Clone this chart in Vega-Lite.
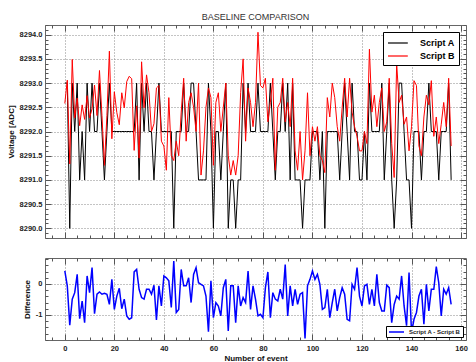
{
  "$schema": "https://vega.github.io/schema/vega-lite/v6.json",
  "background": "white",
  "padding": {"left": 6, "top": 12, "right": 5, "bottom": 0},
  "spacing": 12,
  "config": {
    "font": "Liberation Sans",
    "view": {"stroke": "#666666", "strokeWidth": 1},
    "axis": {
      "domain": false,
      "labelFont": "Liberation Sans",
      "labelFontWeight": "bold",
      "labelFontSize": 7.5,
      "labelColor": "#222222",
      "labelOverlap": false,
      "labelBound": false,
      "labelFlush": false,
      "titleFont": "Liberation Sans",
      "titleFontWeight": "bold",
      "titleFontSize": 8,
      "titleColor": "#111111",
      "tickColor": "#555555",
      "tickWidth": 1,
      "gridColor": "#888888",
      "gridDash": [1, 2],
      "gridWidth": 1
    }
  },
  "resolve": {"scale": {"color": "independent"}, "legend": {"color": "independent"}},
  "datasets": {
    "ab": [
      {"event":0,"series":"Script A","voltage":8293},{"event":1,"series":"Script A","voltage":8293},{"event":2,"series":"Script A","voltage":8290},{"event":3,"series":"Script A","voltage":8293},{"event":4,"series":"Script A","voltage":8292},{"event":5,"series":"Script A","voltage":8293},{"event":6,"series":"Script A","voltage":8291},{"event":7,"series":"Script A","voltage":8292},{"event":8,"series":"Script A","voltage":8291},{"event":9,"series":"Script A","voltage":8293},
      {"event":10,"series":"Script A","voltage":8292},{"event":11,"series":"Script A","voltage":8293},{"event":12,"series":"Script A","voltage":8292},{"event":13,"series":"Script A","voltage":8292},{"event":14,"series":"Script A","voltage":8293},{"event":15,"series":"Script A","voltage":8292},{"event":16,"series":"Script A","voltage":8291},{"event":17,"series":"Script A","voltage":8292},{"event":18,"series":"Script A","voltage":8293},{"event":19,"series":"Script A","voltage":8292},
      {"event":20,"series":"Script A","voltage":8292},{"event":21,"series":"Script A","voltage":8292},{"event":22,"series":"Script A","voltage":8292},{"event":23,"series":"Script A","voltage":8292},{"event":24,"series":"Script A","voltage":8292},{"event":25,"series":"Script A","voltage":8292},{"event":26,"series":"Script A","voltage":8292},{"event":27,"series":"Script A","voltage":8292},{"event":28,"series":"Script A","voltage":8292},{"event":29,"series":"Script A","voltage":8293},
      {"event":30,"series":"Script A","voltage":8291},{"event":31,"series":"Script A","voltage":8293},{"event":32,"series":"Script A","voltage":8292},{"event":33,"series":"Script A","voltage":8293},{"event":34,"series":"Script A","voltage":8292},{"event":35,"series":"Script A","voltage":8292},{"event":36,"series":"Script A","voltage":8291},{"event":37,"series":"Script A","voltage":8292},{"event":38,"series":"Script A","voltage":8293},{"event":39,"series":"Script A","voltage":8292},
      {"event":40,"series":"Script A","voltage":8292},{"event":41,"series":"Script A","voltage":8292},{"event":42,"series":"Script A","voltage":8292},{"event":43,"series":"Script A","voltage":8292},{"event":44,"series":"Script A","voltage":8290},{"event":45,"series":"Script A","voltage":8292},{"event":46,"series":"Script A","voltage":8292},{"event":47,"series":"Script A","voltage":8292},{"event":48,"series":"Script A","voltage":8293},{"event":49,"series":"Script A","voltage":8292},
      {"event":50,"series":"Script A","voltage":8292},{"event":51,"series":"Script A","voltage":8293},{"event":52,"series":"Script A","voltage":8293},{"event":53,"series":"Script A","voltage":8292},{"event":54,"series":"Script A","voltage":8291},{"event":55,"series":"Script A","voltage":8291},{"event":56,"series":"Script A","voltage":8291},{"event":57,"series":"Script A","voltage":8291},{"event":58,"series":"Script A","voltage":8293},{"event":59,"series":"Script A","voltage":8292},
      {"event":60,"series":"Script A","voltage":8290},{"event":61,"series":"Script A","voltage":8292},{"event":62,"series":"Script A","voltage":8292},{"event":63,"series":"Script A","voltage":8291},{"event":64,"series":"Script A","voltage":8292},{"event":65,"series":"Script A","voltage":8293},{"event":66,"series":"Script A","voltage":8290},{"event":67,"series":"Script A","voltage":8291},{"event":68,"series":"Script A","voltage":8291},{"event":69,"series":"Script A","voltage":8290},
      {"event":70,"series":"Script A","voltage":8291},{"event":71,"series":"Script A","voltage":8291},{"event":72,"series":"Script A","voltage":8293},{"event":73,"series":"Script A","voltage":8292},{"event":74,"series":"Script A","voltage":8293},{"event":75,"series":"Script A","voltage":8292},{"event":76,"series":"Script A","voltage":8292},{"event":77,"series":"Script A","voltage":8292},{"event":78,"series":"Script A","voltage":8293},{"event":79,"series":"Script A","voltage":8292},
      {"event":80,"series":"Script A","voltage":8292},{"event":81,"series":"Script A","voltage":8292},{"event":82,"series":"Script A","voltage":8292},{"event":83,"series":"Script A","voltage":8293},{"event":84,"series":"Script A","voltage":8292},{"event":85,"series":"Script A","voltage":8291},{"event":86,"series":"Script A","voltage":8292},{"event":87,"series":"Script A","voltage":8292},{"event":88,"series":"Script A","voltage":8293},{"event":89,"series":"Script A","voltage":8292},
      {"event":90,"series":"Script A","voltage":8293},{"event":91,"series":"Script A","voltage":8291},{"event":92,"series":"Script A","voltage":8293},{"event":93,"series":"Script A","voltage":8291},{"event":94,"series":"Script A","voltage":8291},{"event":95,"series":"Script A","voltage":8291},{"event":96,"series":"Script A","voltage":8290},{"event":97,"series":"Script A","voltage":8291},{"event":98,"series":"Script A","voltage":8291},{"event":99,"series":"Script A","voltage":8291},
      {"event":100,"series":"Script A","voltage":8292},{"event":101,"series":"Script A","voltage":8292},{"event":102,"series":"Script A","voltage":8292},{"event":103,"series":"Script A","voltage":8291},{"event":104,"series":"Script A","voltage":8292},{"event":105,"series":"Script A","voltage":8290},{"event":106,"series":"Script A","voltage":8292},{"event":107,"series":"Script A","voltage":8292},{"event":108,"series":"Script A","voltage":8292},{"event":109,"series":"Script A","voltage":8292},
      {"event":110,"series":"Script A","voltage":8292},{"event":111,"series":"Script A","voltage":8291},{"event":112,"series":"Script A","voltage":8292},{"event":113,"series":"Script A","voltage":8293},{"event":114,"series":"Script A","voltage":8292},{"event":115,"series":"Script A","voltage":8291},{"event":116,"series":"Script A","voltage":8293},{"event":117,"series":"Script A","voltage":8292},{"event":118,"series":"Script A","voltage":8292},{"event":119,"series":"Script A","voltage":8291},
      {"event":120,"series":"Script A","voltage":8291},{"event":121,"series":"Script A","voltage":8292},{"event":122,"series":"Script A","voltage":8291},{"event":123,"series":"Script A","voltage":8293},{"event":124,"series":"Script A","voltage":8292},{"event":125,"series":"Script A","voltage":8292},{"event":126,"series":"Script A","voltage":8292},{"event":127,"series":"Script A","voltage":8292},{"event":128,"series":"Script A","voltage":8293},{"event":129,"series":"Script A","voltage":8291},
      {"event":130,"series":"Script A","voltage":8292},{"event":131,"series":"Script A","voltage":8293},{"event":132,"series":"Script A","voltage":8291},{"event":133,"series":"Script A","voltage":8290},{"event":134,"series":"Script A","voltage":8291},{"event":135,"series":"Script A","voltage":8293},{"event":136,"series":"Script A","voltage":8293},{"event":137,"series":"Script A","voltage":8292},{"event":138,"series":"Script A","voltage":8291},{"event":139,"series":"Script A","voltage":8291},
      {"event":140,"series":"Script A","voltage":8290},{"event":141,"series":"Script A","voltage":8292},{"event":142,"series":"Script A","voltage":8292},{"event":143,"series":"Script A","voltage":8292},{"event":144,"series":"Script A","voltage":8291},{"event":145,"series":"Script A","voltage":8292},{"event":146,"series":"Script A","voltage":8292},{"event":147,"series":"Script A","voltage":8293},{"event":148,"series":"Script A","voltage":8292},{"event":149,"series":"Script A","voltage":8292},
      {"event":150,"series":"Script A","voltage":8292},{"event":151,"series":"Script A","voltage":8291},{"event":152,"series":"Script A","voltage":8292},{"event":153,"series":"Script A","voltage":8292},{"event":154,"series":"Script A","voltage":8292},{"event":155,"series":"Script A","voltage":8293},{"event":156,"series":"Script A","voltage":8291},
      {"event":0,"series":"Script B","voltage":8292.58},{"event":1,"series":"Script B","voltage":8293.06},{"event":2,"series":"Script B","voltage":8291.33},{"event":3,"series":"Script B","voltage":8293.49},{"event":4,"series":"Script B","voltage":8292.28},{"event":5,"series":"Script B","voltage":8292.69},{"event":6,"series":"Script B","voltage":8292.12},{"event":7,"series":"Script B","voltage":8292.55},{"event":8,"series":"Script B","voltage":8292.25},{"event":9,"series":"Script B","voltage":8292.74},
      {"event":10,"series":"Script B","voltage":8292.28},{"event":11,"series":"Script B","voltage":8292.47},{"event":12,"series":"Script B","voltage":8292.96},{"event":13,"series":"Script B","voltage":8292.33},{"event":14,"series":"Script B","voltage":8293.26},{"event":15,"series":"Script B","voltage":8292.33},{"event":16,"series":"Script B","voltage":8291.3},{"event":17,"series":"Script B","voltage":8292.33},{"event":18,"series":"Script B","voltage":8293.66},{"event":19,"series":"Script B","voltage":8291.85},
      {"event":20,"series":"Script B","voltage":8292.82},{"event":21,"series":"Script B","voltage":8292.39},{"event":22,"series":"Script B","voltage":8292.14},{"event":23,"series":"Script B","voltage":8292.8},{"event":24,"series":"Script B","voltage":8292.49},{"event":25,"series":"Script B","voltage":8293.03},{"event":26,"series":"Script B","voltage":8293.14},{"event":27,"series":"Script B","voltage":8293.09},{"event":28,"series":"Script B","voltage":8291.61},{"event":29,"series":"Script B","voltage":8292.53},
      {"event":30,"series":"Script B","voltage":8291.45},{"event":31,"series":"Script B","voltage":8293.44},{"event":32,"series":"Script B","voltage":8292.49},{"event":33,"series":"Script B","voltage":8293.17},{"event":34,"series":"Script B","voltage":8292.8},{"event":35,"series":"Script B","voltage":8292.0},{"event":36,"series":"Script B","voltage":8292.16},{"event":37,"series":"Script B","voltage":8292.9},{"event":38,"series":"Script B","voltage":8292.95},{"event":39,"series":"Script B","voltage":8291.8},
      {"event":40,"series":"Script B","voltage":8291.7},{"event":41,"series":"Script B","voltage":8291.2},{"event":42,"series":"Script B","voltage":8292.7},{"event":43,"series":"Script B","voltage":8291.5},{"event":44,"series":"Script B","voltage":8291.4},{"event":45,"series":"Script B","voltage":8291.8},{"event":46,"series":"Script B","voltage":8291.5},{"event":47,"series":"Script B","voltage":8292.4},{"event":48,"series":"Script B","voltage":8293.1},{"event":49,"series":"Script B","voltage":8291.8},
      {"event":50,"series":"Script B","voltage":8292.6},{"event":51,"series":"Script B","voltage":8292.8},{"event":52,"series":"Script B","voltage":8292.5},{"event":53,"series":"Script B","voltage":8292.0},{"event":54,"series":"Script B","voltage":8293.0},{"event":55,"series":"Script B","voltage":8291.1},{"event":56,"series":"Script B","voltage":8291.6},{"event":57,"series":"Script B","voltage":8292.5},{"event":58,"series":"Script B","voltage":8292.9},{"event":59,"series":"Script B","voltage":8292.7},
      {"event":60,"series":"Script B","voltage":8291.3},{"event":61,"series":"Script B","voltage":8292.6},{"event":62,"series":"Script B","voltage":8292.8},{"event":63,"series":"Script B","voltage":8292.0},{"event":64,"series":"Script B","voltage":8292.5},{"event":65,"series":"Script B","voltage":8293.0},{"event":66,"series":"Script B","voltage":8291.5},{"event":67,"series":"Script B","voltage":8291.1},{"event":68,"series":"Script B","voltage":8291.4},{"event":69,"series":"Script B","voltage":8291.1},
      {"event":70,"series":"Script B","voltage":8291.5},{"event":71,"series":"Script B","voltage":8292.8},{"event":72,"series":"Script B","voltage":8293.5},{"event":73,"series":"Script B","voltage":8291.8},{"event":74,"series":"Script B","voltage":8292.9},{"event":75,"series":"Script B","voltage":8292.6},{"event":76,"series":"Script B","voltage":8292.1},{"event":77,"series":"Script B","voltage":8292.6},{"event":78,"series":"Script B","voltage":8294.05},{"event":79,"series":"Script B","voltage":8292.95},
      {"event":80,"series":"Script B","voltage":8292.9},{"event":81,"series":"Script B","voltage":8293.1},{"event":82,"series":"Script B","voltage":8292.2},{"event":83,"series":"Script B","voltage":8292.6},{"event":84,"series":"Script B","voltage":8293.1},{"event":85,"series":"Script B","voltage":8291.2},{"event":86,"series":"Script B","voltage":8292.5},{"event":87,"series":"Script B","voltage":8292.6},{"event":88,"series":"Script B","voltage":8293.1},{"event":89,"series":"Script B","voltage":8292.2},
      {"event":90,"series":"Script B","voltage":8292.6},{"event":91,"series":"Script B","voltage":8292.1},{"event":92,"series":"Script B","voltage":8293.1},{"event":93,"series":"Script B","voltage":8291.6},{"event":94,"series":"Script B","voltage":8291.2},{"event":95,"series":"Script B","voltage":8292.0},{"event":96,"series":"Script B","voltage":8291.0},{"event":97,"series":"Script B","voltage":8291.6},{"event":98,"series":"Script B","voltage":8292.8},{"event":99,"series":"Script B","voltage":8291.5},
      {"event":100,"series":"Script B","voltage":8292.1},{"event":101,"series":"Script B","voltage":8291.8},{"event":102,"series":"Script B","voltage":8292.1},{"event":103,"series":"Script B","voltage":8291.5},{"event":104,"series":"Script B","voltage":8291.4},{"event":105,"series":"Script B","voltage":8291.15},{"event":106,"series":"Script B","voltage":8292.7},{"event":107,"series":"Script B","voltage":8292.3},{"event":108,"series":"Script B","voltage":8293.0},{"event":109,"series":"Script B","voltage":8292.7},
      {"event":110,"series":"Script B","voltage":8292.1},{"event":111,"series":"Script B","voltage":8291.8},{"event":112,"series":"Script B","voltage":8292.5},{"event":113,"series":"Script B","voltage":8293.1},{"event":114,"series":"Script B","voltage":8292.3},{"event":115,"series":"Script B","voltage":8293.1},{"event":116,"series":"Script B","voltage":8292.4},{"event":117,"series":"Script B","voltage":8292.1},{"event":118,"series":"Script B","voltage":8291.9},{"event":119,"series":"Script B","voltage":8291.6},
      {"event":120,"series":"Script B","voltage":8291.6},{"event":121,"series":"Script B","voltage":8292.0},{"event":122,"series":"Script B","voltage":8291.75},{"event":123,"series":"Script B","voltage":8293.7},{"event":124,"series":"Script B","voltage":8292.4},{"event":125,"series":"Script B","voltage":8292.75},{"event":126,"series":"Script B","voltage":8292.1},{"event":127,"series":"Script B","voltage":8292.6},{"event":128,"series":"Script B","voltage":8292.9},{"event":129,"series":"Script B","voltage":8292.0},
      {"event":130,"series":"Script B","voltage":8292.2},{"event":131,"series":"Script B","voltage":8293.1},{"event":132,"series":"Script B","voltage":8291.75},{"event":133,"series":"Script B","voltage":8291.05},{"event":134,"series":"Script B","voltage":8293.4},{"event":135,"series":"Script B","voltage":8292.6},{"event":136,"series":"Script B","voltage":8292.75},{"event":137,"series":"Script B","voltage":8292.15},{"event":138,"series":"Script B","voltage":8292.3},{"event":139,"series":"Script B","voltage":8291.6},
      {"event":140,"series":"Script B","voltage":8292.1},{"event":141,"series":"Script B","voltage":8293.05},{"event":142,"series":"Script B","voltage":8292.95},{"event":143,"series":"Script B","voltage":8291.7},{"event":144,"series":"Script B","voltage":8291.5},{"event":145,"series":"Script B","voltage":8292.3},{"event":146,"series":"Script B","voltage":8292.75},{"event":147,"series":"Script B","voltage":8292.55},{"event":148,"series":"Script B","voltage":8293.05},{"event":149,"series":"Script B","voltage":8291.9},
      {"event":150,"series":"Script B","voltage":8292.3},{"event":151,"series":"Script B","voltage":8291.75},{"event":152,"series":"Script B","voltage":8292.15},{"event":153,"series":"Script B","voltage":8292.6},{"event":154,"series":"Script B","voltage":8292.1},{"event":155,"series":"Script B","voltage":8293.1},{"event":156,"series":"Script B","voltage":8291.7}
    ],
    "diff": [
      {"event":0,"d":0.42},{"event":1,"d":-0.06},{"event":2,"d":-1.33},{"event":3,"d":-0.49},{"event":4,"d":-0.28},{"event":5,"d":0.31},{"event":6,"d":-1.12},{"event":7,"d":-0.55},{"event":8,"d":-1.25},{"event":9,"d":0.26},
      {"event":10,"d":-0.28},{"event":11,"d":0.53},{"event":12,"d":-0.96},{"event":13,"d":-0.33},{"event":14,"d":-0.26},{"event":15,"d":-0.33},{"event":16,"d":-0.3},{"event":17,"d":-0.33},{"event":18,"d":-0.66},{"event":19,"d":0.15},
      {"event":20,"d":-0.82},{"event":21,"d":-0.39},{"event":22,"d":-0.14},{"event":23,"d":-0.8},{"event":24,"d":-0.49},{"event":25,"d":-1.03},{"event":26,"d":-1.14},{"event":27,"d":-1.09},{"event":28,"d":0.39},{"event":29,"d":0.47},
      {"event":30,"d":-0.17},{"event":31,"d":-0.44},{"event":32,"d":-0.49},{"event":33,"d":-0.17},{"event":34,"d":-0.17},{"event":35,"d":-0.33},{"event":36,"d":-0.04},{"event":37,"d":-1.16},{"event":38,"d":-0.06},{"event":39,"d":-0.71},
      {"event":40,"d":0.26},{"event":41,"d":0.2},{"event":42,"d":0.1},{"event":43,"d":-0.76},{"event":44,"d":0.74},{"event":45,"d":-0.92},{"event":46,"d":-0.82},{"event":47,"d":0.47},{"event":48,"d":-0.06},{"event":49,"d":-0.06},
      {"event":50,"d":0.2},{"event":51,"d":-0.6},{"event":52,"d":0.31},{"event":53,"d":0.53},{"event":54,"d":0.04},{"event":55,"d":-0.01},{"event":56,"d":-0.06},{"event":57,"d":-0.39},{"event":58,"d":-1.54},{"event":59,"d":0.1},
      {"event":60,"d":-1.09},{"event":61,"d":-0.6},{"event":62,"d":-0.71},{"event":63,"d":-1.03},{"event":64,"d":-0.12},{"event":65,"d":0.15},{"event":66,"d":-1.52},{"event":67,"d":-0.06},{"event":68,"d":-0.06},{"event":69,"d":-1.25},
      {"event":70,"d":-0.06},{"event":71,"d":-0.71},{"event":72,"d":-0.44},{"event":73,"d":-0.6},{"event":74,"d":0.42},{"event":75,"d":-0.82},{"event":76,"d":-0.06},{"event":77,"d":-0.49},{"event":78,"d":-1.03},{"event":79,"d":-0.98},
      {"event":80,"d":-1.09},{"event":81,"d":-0.12},{"event":82,"d":0.39},{"event":83,"d":-1.09},{"event":84,"d":-0.28},{"event":85,"d":-0.49},{"event":86,"d":-0.55},{"event":87,"d":-0.17},{"event":88,"d":-0.49},{"event":89,"d":0.63},
      {"event":90,"d":-1.03},{"event":91,"d":-0.06},{"event":92,"d":-0.71},{"event":93,"d":-0.17},{"event":94,"d":-0.66},{"event":95,"d":-0.33},{"event":96,"d":-0.28},{"event":97,"d":-1.76},{"event":98,"d":-0.06},{"event":99,"d":0.15},
      {"event":100,"d":0.42},{"event":101,"d":0.15},{"event":102,"d":0.31},{"event":103,"d":-0.01},{"event":104,"d":-0.82},{"event":105,"d":-0.76},{"event":106,"d":-0.17},{"event":107,"d":-1.09},{"event":108,"d":-0.6},{"event":109,"d":-0.17},
      {"event":110,"d":-0.87},{"event":111,"d":-0.44},{"event":112,"d":-0.12},{"event":113,"d":-0.33},{"event":114,"d":-1.14},{"event":115,"d":-1.19},{"event":116,"d":-0.01},{"event":117,"d":-0.17},{"event":118,"d":0.53},{"event":119,"d":-0.39},
      {"event":120,"d":-0.71},{"event":121,"d":-0.06},{"event":122,"d":-0.01},{"event":123,"d":-0.66},{"event":124,"d":-0.17},{"event":125,"d":-0.71},{"event":126,"d":0.31},{"event":127,"d":-0.6},{"event":128,"d":-0.87},{"event":129,"d":-0.87},
      {"event":130,"d":-0.04},{"event":131,"d":-0.12},{"event":132,"d":-1.25},{"event":133,"d":-0.66},{"event":134,"d":-0.39},{"event":135,"d":-0.49},{"event":136,"d":0.26},{"event":137,"d":-0.71},{"event":138,"d":-1.35},{"event":139,"d":0.37},
      {"event":140,"d":-1.57},{"event":141,"d":-1.14},{"event":142,"d":-0.92},{"event":143,"d":-0.39},{"event":144,"d":-0.17},{"event":145,"d":-1.3},{"event":146,"d":-0.01},{"event":147,"d":-0.87},{"event":148,"d":-0.17},{"event":149,"d":-0.17},
      {"event":150,"d":0.56},{"event":151,"d":0.04},{"event":152,"d":-1.03},{"event":153,"d":-0.17},{"event":154,"d":-0.33},{"event":155,"d":-0.12},{"event":156,"d":-0.66}
    ]
  },
  "vconcat": [
    {
      "width": 421,
      "height": 213,
      "title": {"text": "BASELINE COMPARISON", "fontSize": 9, "fontWeight": "normal", "font": "Liberation Sans", "color": "#333333", "offset": -1, "frame": "group", "anchor": "middle"},
      "data": {"name": "ab"},
      "resolve": {"axis": {"x": "independent", "y": "independent"}},
      "layer": [
        {
          "mark": {"type": "line", "strokeWidth": 1},
          "encoding": {
            "x": {"field": "event", "type": "quantitative",
              "scale": {"domain": [-8, 162], "nice": false, "zero": false},
              "axis": {"orient": "bottom", "title": null,
                "values": [-5,0,5,10,15,20,25,30,35,40,45,50,55,60,65,70,75,80,85,90,95,100,105,110,115,120,125,130,135,140,145,150,155,160],
                "labels": false, "grid": true,
                "gridOpacity": {"condition": {"test": "datum.value % 20 === 0", "value": 1}, "value": 0},
                "tickSize": {"condition": {"test": "datum.value % 20 === 0", "value": -6}, "value": -3}}},
            "y": {"field": "voltage", "type": "quantitative",
              "scale": {"domain": [8289.8, 8294.2], "nice": false, "zero": false},
              "axis": {"orient": "left", "title": "Voltage [ADC]", "titlePadding": 4,
                "values": [8289.8,8289.9,8290,8290.1,8290.2,8290.3,8290.4,8290.5,8290.6,8290.7,8290.8,8290.9,8291,8291.1,8291.2,8291.3,8291.4,8291.5,8291.6,8291.7,8291.8,8291.9,8292,8292.1,8292.2,8292.3,8292.4,8292.5,8292.6,8292.7,8292.8,8292.9,8293,8293.1,8293.2,8293.3,8293.4,8293.5,8293.6,8293.7,8293.8,8293.9,8294,8294.1,8294.2],
                "labelExpr": "abs(datum.value*2-round(datum.value*2))<0.01 ? format(datum.value,'.1f') : ''",
                "labelPadding": 9, "grid": true,
                "gridOpacity": {"condition": {"test": "abs(datum.value*2-round(datum.value*2))<0.01", "value": 1}, "value": 0},
                "tickSize": {"condition": {"test": "abs(datum.value*2-round(datum.value*2))<0.01", "value": -6}, "value": -3}}},
            "color": {"field": "series", "type": "nominal",
              "scale": {"domain": ["Script A", "Script B"], "range": ["#000000", "#ff0000"]},
              "legend": {"orient": "top-right", "offset": 7, "title": null, "fillColor": "white", "strokeColor": "#000000", "padding": 4,
                "labelFont": "Liberation Sans", "labelFontWeight": "bold", "labelFontSize": 9, "labelColor": "#000000", "labelOffset": 19,
                "symbolType": "M-1,0H2.3", "symbolSize": 144, "symbolStrokeWidth": 1.2, "rowPadding": 1}}
          }
        },
        {
          "mark": {"type": "line", "opacity": 0},
          "encoding": {
            "x": {"field": "event", "type": "quantitative",
              "axis": {"orient": "top", "title": null, "labels": false, "grid": false,
                "values": [-5,0,5,10,15,20,25,30,35,40,45,50,55,60,65,70,75,80,85,90,95,100,105,110,115,120,125,130,135,140,145,150,155,160],
                "tickSize": {"condition": {"test": "datum.value % 20 === 0", "value": -6}, "value": -3}}},
            "y": {"field": "voltage", "type": "quantitative",
              "axis": {"orient": "right", "title": null, "labels": false, "grid": false,
                "values": [8289.8,8289.9,8290,8290.1,8290.2,8290.3,8290.4,8290.5,8290.6,8290.7,8290.8,8290.9,8291,8291.1,8291.2,8291.3,8291.4,8291.5,8291.6,8291.7,8291.8,8291.9,8292,8292.1,8292.2,8292.3,8292.4,8292.5,8292.6,8292.7,8292.8,8292.9,8293,8293.1,8293.2,8293.3,8293.4,8293.5,8293.6,8293.7,8293.8,8293.9,8294,8294.1,8294.2],
                "tickSize": {"condition": {"test": "abs(datum.value*2-round(datum.value*2))<0.01", "value": -6}, "value": -3}}},
            "detail": {"field": "series"}
          }
        }
      ]
    },
    {
      "width": 421,
      "height": 82,
      "data": {"name": "diff"},
      "resolve": {"axis": {"x": "independent", "y": "independent"}},
      "layer": [
        {
          "mark": {"type": "line", "strokeWidth": 1.5},
          "encoding": {
            "x": {"field": "event", "type": "quantitative",
              "scale": {"domain": [-8, 162], "nice": false, "zero": false},
              "axis": {"orient": "bottom", "title": "Number of event", "titlePadding": 0,
                "values": [-5,0,5,10,15,20,25,30,35,40,45,50,55,60,65,70,75,80,85,90,95,100,105,110,115,120,125,130,135,140,145,150,155,160],
                "labelExpr": "datum.value % 20 === 0 ? '' + datum.value : ''",
                "labelPadding": 10, "grid": true,
                "gridOpacity": {"condition": {"test": "datum.value % 20 === 0", "value": 1}, "value": 0},
                "tickSize": {"condition": {"test": "datum.value % 20 === 0", "value": -6}, "value": -3}}},
            "y": {"field": "d", "type": "quantitative",
              "scale": {"domain": [-1.81, 0.84], "nice": false, "zero": false},
              "axis": {"orient": "left", "title": "Difference", "titlePadding": 4,
                "values": [-1.8,-1.6,-1.4,-1.2,-1,-0.8,-0.6,-0.4,-0.2,0,0.2,0.4,0.6,0.8],
                "labelExpr": "abs(datum.value)<0.01 ? '0' : (abs(datum.value+1)<0.01 ? '-1' : '')",
                "labelPadding": 9, "grid": true,
                "gridOpacity": {"condition": {"test": "abs(datum.value-round(datum.value))<0.01", "value": 1}, "value": 0},
                "tickSize": {"condition": {"test": "abs(datum.value-round(datum.value))<0.01", "value": -6}, "value": -3}}},
            "color": {"datum": "Script A - Script B", "type": "nominal",
              "scale": {"domain": ["Script A - Script B"], "range": ["#0000ff"]},
              "legend": {"orient": "bottom-right", "offset": 3, "title": null, "fillColor": "white", "strokeColor": "#000000", "padding": 2,
                "labelFont": "Liberation Sans", "labelFontWeight": "bold", "labelFontSize": 6, "labelColor": "#222222", "labelOffset": 13,
                "symbolType": "M-1,0H4", "symbolSize": 36, "symbolStrokeWidth": 1.5}}
          }
        },
        {
          "mark": {"type": "line", "opacity": 0},
          "encoding": {
            "x": {"field": "event", "type": "quantitative",
              "axis": {"orient": "top", "title": null, "labels": false, "grid": false,
                "values": [-5,0,5,10,15,20,25,30,35,40,45,50,55,60,65,70,75,80,85,90,95,100,105,110,115,120,125,130,135,140,145,150,155,160],
                "tickSize": {"condition": {"test": "datum.value % 20 === 0", "value": -6}, "value": -3}}},
            "y": {"field": "d", "type": "quantitative",
              "axis": {"orient": "right", "title": null, "labels": false, "grid": false,
                "values": [-1.8,-1.6,-1.4,-1.2,-1,-0.8,-0.6,-0.4,-0.2,0,0.2,0.4,0.6,0.8],
                "tickSize": {"condition": {"test": "abs(datum.value-round(datum.value))<0.01", "value": -6}, "value": -3}}}
          }
        }
      ]
    }
  ]
}
